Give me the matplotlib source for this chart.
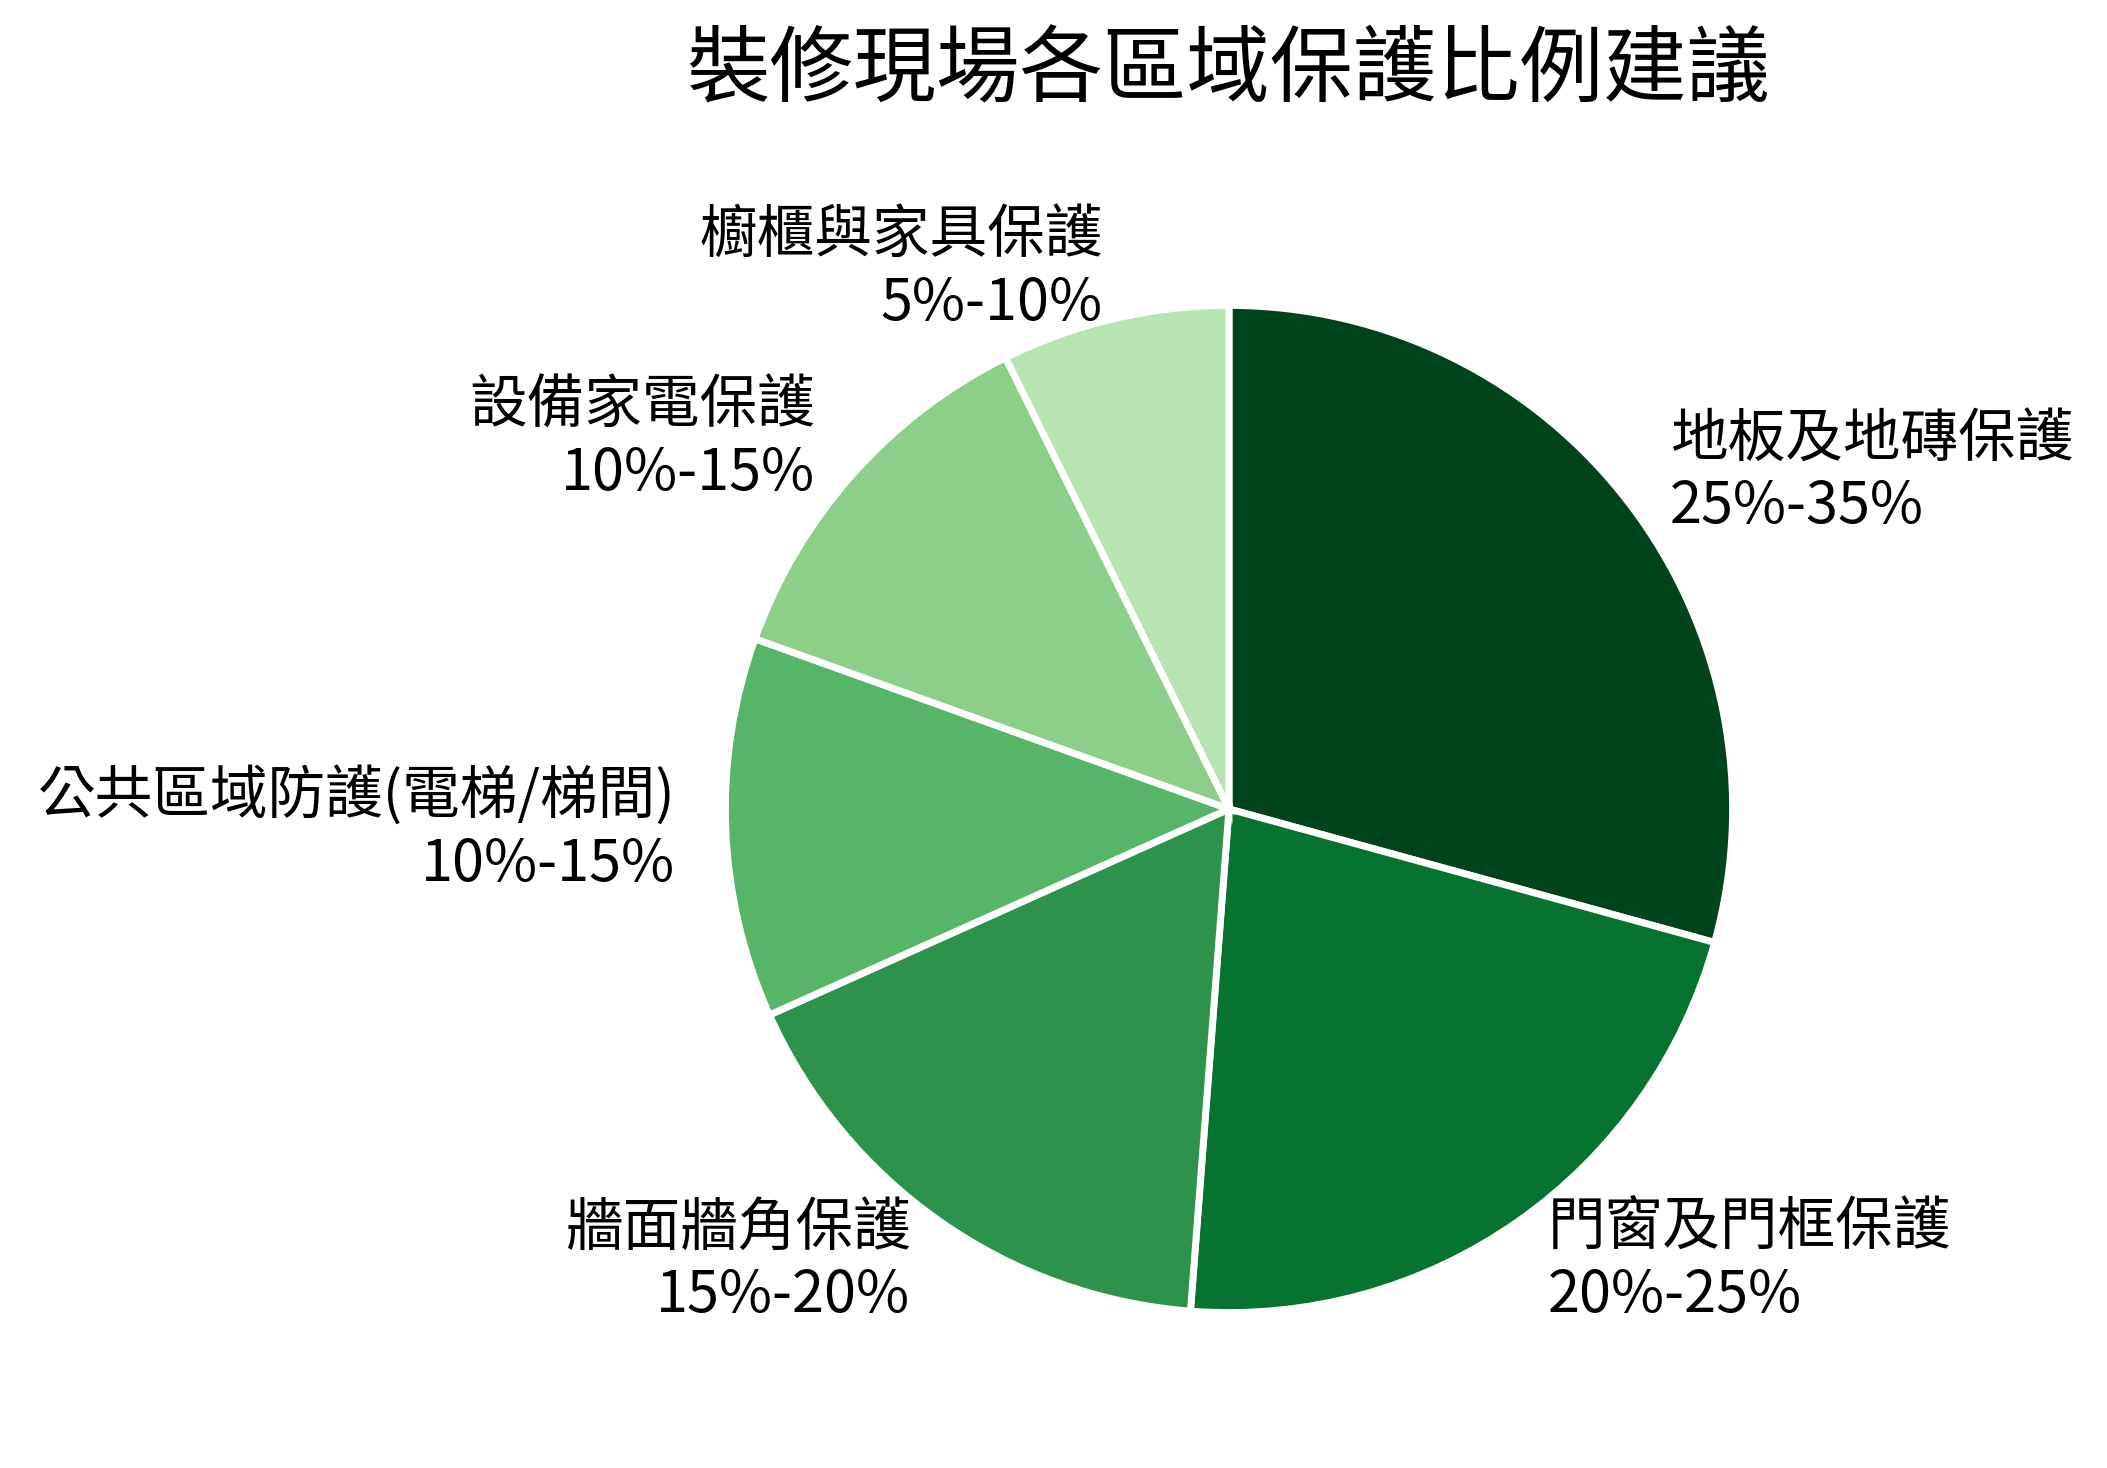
import matplotlib
matplotlib.use("Agg")
import matplotlib.pyplot as plt

plt.rcParams['font.family'] = ['Noto Sans CJK TC', 'DejaVu Sans']

title = "裝修現場各區域保護比例建議"
categories = ["地板及地磚保護", "門窗及門框保護", "牆面牆角保護",
              "公共區域防護(電梯/梯間)", "設備家電保護", "櫥櫃與家具保護"]
ranges = ["25%-35%", "20%-25%", "15%-20%", "10%-15%", "10%-15%", "5%-10%"]
values = [30, 22.5, 17.5, 12.5, 12.5, 7.5]
colors = ['#00441b', '#077331', '#2d934c', '#56b567', '#8dce88', '#b8e3b2']

labels = [f"{c}\n{r}" for c, r in zip(categories, ranges)]

fig = plt.figure(figsize=(21.07, 14.68), dpi=100)
ax = fig.add_axes([599.5 / 2107, 29.5 / 1468, 1259 / 2107, 1259 / 1468])
wedges, texts = ax.pie(values, labels=labels, colors=colors, startangle=90,
                       counterclock=False, labeldistance=1.1,
                       wedgeprops=dict(edgecolor='white', linewidth=5),
                       textprops=dict(fontsize=41.5, color='black'))
ax.set_aspect('equal')
fig.text(1228 / 2107, 1 - 71 / 1468, title, ha='center', va='center',
         fontsize=60, color='black')
fig.savefig("out.png", dpi=100, facecolor='white')
